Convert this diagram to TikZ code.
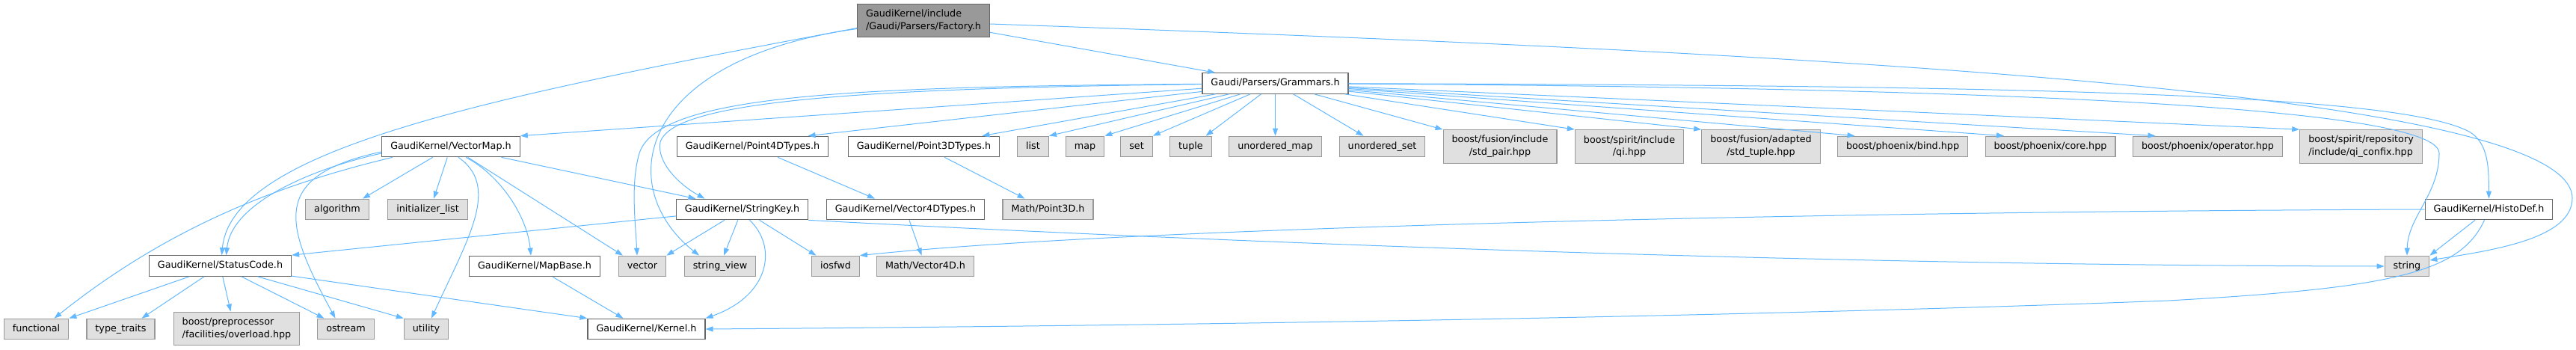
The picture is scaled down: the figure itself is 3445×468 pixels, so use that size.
\documentclass[tikz,border=0pt]{standalone}
\usepackage{fontspec}
\setmainfont{DejaVu Sans}
\usepackage{xcolor}
\usepackage{tikz}
\usetikzlibrary{arrows.meta}

\definecolor{lien}{HTML}{63B8FF}
\definecolor{gris40}{HTML}{666666}
\definecolor{gris60}{HTML}{999999}
\definecolor{gris87}{HTML}{E0E0E0}

\begin{document}
\begin{tikzpicture}[x=1pt, y=-1pt,
    boite/.style={draw, line width=1.2pt, inner xsep=11.5pt, inner ysep=2pt,
        font=\fontsize{12.75}{16.7}\selectfont},
    uneligne/.style={minimum height=27.5pt, text height=9.5pt, text depth=3pt},
    deuxlignes/.style={minimum height=44.5pt},
    doc/.style={boite, uneligne, draw=gris40, fill=white},
    ext/.style={boite, uneligne, draw=gris60, fill=gris87},
    ext2/.style={boite, deuxlignes, draw=gris60, fill=gris87},
    racine/.style={boite, deuxlignes, draw=gris40, fill=gris60},
    fleche/.style={draw=lien, line width=1pt, -{Triangle[length=10pt,width=7pt]}}]

    % Cadre de l'image
    \useasboundingbox (0,0) rectangle (3445,468);

    % Fichier racine
    \node (factory) at (1235,27.5) [racine, align=left] {GaudiKernel/include\\/Gaudi/Parsers/Factory.h};

    % Niveau 1
    \node (grammars) at (1705.5,111.5) [doc] {Gaudi/Parsers/Grammars.h};

    % Niveau 2
    \node (vmap) at (603,196) [doc] {GaudiKernel/VectorMap.h};
    \node (p4d) at (1006.5,196) [doc] {GaudiKernel/Point4DTypes.h};
    \node (p3d) at (1235.5,196) [doc] {GaudiKernel/Point3DTypes.h};
    \node (list) at (1381.5,196) [ext] {list};
    \node (map) at (1451,196) [ext] {map};
    \node (set) at (1520,196) [ext] {set};
    \node (tuple) at (1592.5,196) [ext] {tuple};
    \node (umap) at (1705.5,196) [ext] {unordered\_map};
    \node (uset) at (1848.5,196) [ext] {unordered\_set};
    \node (fpair) at (2006,196) [ext2, align=center] {boost/fusion/include\\/std\_pair.hpp};
    \node (qi) at (2179,196) [ext2, align=center] {boost/spirit/include\\/qi.hpp};
    \node (ftuple) at (2355,196) [ext2, align=center] {boost/fusion/adapted\\/std\_tuple.hpp};
    \node (pbind) at (2544.5,196) [ext] {boost/phoenix/bind.hpp};
    \node (pcore) at (2742,196) [ext] {boost/phoenix/core.hpp};
    \node (pop) at (2952.5,196) [ext] {boost/phoenix/operator.hpp};
    \node (confix) at (3157.5,196) [ext2, align=left] {boost/spirit/repository\\/include/qi\_confix.hpp};

    % Niveau 3
    \node (algorithm) at (451,280) [ext] {algorithm};
    \node (initlist) at (572,280) [ext] {initializer\_list};
    \node (strkey) at (992.5,280) [doc] {GaudiKernel/StringKey.h};
    \node (v4dt) at (1211,280) [doc] {GaudiKernel/Vector4DTypes.h};
    \node (point3d) at (1401.5,280) [ext] {Math/Point3D.h};
    \node (histodef) at (3328.5,280) [doc] {GaudiKernel/HistoDef.h};

    % Niveau 4
    \node (status) at (294.5,355.5) [doc] {GaudiKernel/StatusCode.h};
    \node (mapbase) at (715,356) [doc] {GaudiKernel/MapBase.h};
    \node (vector) at (859,356) [ext] {vector};
    \node (strview) at (963,356) [ext] {string\_view};
    \node (iosfwd) at (1117.5,356) [ext] {iosfwd};
    \node (vec4d) at (1237.5,356) [ext] {Math/Vector4D.h};
    \node (string) at (3219,356) [ext] {string};

    % Niveau 5
    \node (functional) at (48.5,440) [ext] {functional};
    \node (typetraits) at (161.5,440) [ext] {type\_traits};
    \node (preproc) at (316.5,439.5) [ext2, align=left] {boost/preprocessor\\/facilities/overload.hpp};
    \node (ostream) at (462.5,440) [ext] {ostream};
    \node (utility) at (570,440) [ext] {utility};
    \node (kernel) at (864.5,440) [doc] {GaudiKernel/Kernel.h};

    % Liens depuis Factory.h
    \draw[fleche] (factory) -- (grammars);
    \draw[fleche] ([yshift=-10pt]factory.west) .. controls (650,130) and (310,200) .. ([xshift=2pt]status.north);
    \draw[fleche] ([yshift=-11pt]factory.west) .. controls (850,80) and (820,250) .. ([xshift=-28pt]strview.north);
    \draw[fleche] ([yshift=-4.5pt]factory.east) .. controls (2400,70) and (3440,120) .. (3440,265)
        .. controls (3440,320) and (3330,335) .. ([yshift=8pt]string.east);

    % Liens depuis Grammars.h
    \draw[fleche] (grammars) -- (vmap.north east);
    \draw[fleche] (grammars) -- ([xshift=74pt]p4d.north);
    \draw[fleche] (grammars) -- ([xshift=78pt]p3d.north);
    \draw[fleche] (grammars) -- (list.north east);
    \draw[fleche] (grammars) -- (map.north east);
    \draw[fleche] (grammars) -- (set.north east);
    \draw[fleche] (grammars) -- ([xshift=20pt]tuple.north);
    \draw[fleche] (grammars) -- (umap);
    \draw[fleche] (grammars) -- ([xshift=-25pt]uset.north);
    \draw[fleche] (grammars) -- (fpair.north west);
    \draw[fleche] (grammars) -- (qi.north west);
    \draw[fleche] (grammars) -- (ftuple.north west);
    \draw[fleche] (grammars) -- ([xshift=-64pt]pbind.north);
    \draw[fleche] (grammars) -- ([xshift=-62pt]pcore.north);
    \draw[fleche] (grammars) -- ([xshift=-70pt]pop.north);
    \draw[fleche] (grammars) -- (confix.north west);
    \draw[fleche] (grammars) .. controls (2800,118) and (3262,150) .. (3262,205)
        .. controls (3262,260) and (3220,290) .. (string.north);
    \draw[fleche] (grammars) .. controls (2700,114) and (3200,125) .. (3300,175)
        .. controls (3330,190) and (3328,230) .. (histodef.north);
    \draw[fleche] (grammars) .. controls (1150,118) and (900,135) .. (883,190)
        .. controls (878,215) and (905,245) .. ([xshift=-50pt]strkey.north);
    \draw[fleche] (grammars) .. controls (1150,116) and (880,125) .. (855,205)
        .. controls (843,245) and (850,300) .. ([xshift=-7pt]vector.north);

    % Liens depuis HistoDef.h
    \draw[fleche] (histodef) -- (string.north east);
    \draw[fleche] ([xshift=-6pt]histodef.south) .. controls (3290,365) and (3200,385) .. (2900,402)
        .. controls (2300,425) and (1500,436) .. (kernel.east);
    \draw[fleche] (histodef.west) .. controls (2400,283) and (1500,305) .. (iosfwd.north east);

    % Liens depuis StringKey.h
    \draw[fleche] (strkey) -- (vector.north east);
    \draw[fleche] (strkey) -- ([xshift=5pt]strview.north);
    \draw[fleche] (strkey) -- ([xshift=-26pt]iosfwd.north);
    \draw[fleche] ([xshift=10pt]strkey.south) .. controls (1040,330) and (1030,395) .. (kernel.north east);
    \draw[fleche] (strkey) -- (status.north east);
    \draw[fleche] (strkey.south east) .. controls (1600,322) and (2400,355) .. (string.west);

    % Liens depuis VectorMap.h
    \draw[fleche] (vmap) -- ([xshift=34pt]algorithm.north);
    \draw[fleche] (vmap) -- ([xshift=8pt]initlist.north);
    \draw[fleche] ([xshift=10pt]vmap.south) .. controls (670,250) and (625,320) .. ([xshift=7pt]utility.north);
    \draw[fleche] ([xshift=20pt]vmap.south) .. controls (670,235) and (705,290) .. ([xshift=-5pt]mapbase.north);
    \draw[fleche] (vmap) -- ([xshift=-26pt]vector.north);
    \draw[fleche] (vmap) -- ([xshift=-62pt]strkey.north);
    \draw[fleche] ([xshift=-78pt]vmap.south) .. controls (380,245) and (230,300) .. ([xshift=24pt]functional.north);
    \draw[fleche] ([yshift=-9pt]vmap.west) .. controls (420,225) and (310,270) .. ([xshift=8pt]status.north);
    \draw[fleche] ([yshift=-7pt]vmap.west) .. controls (360,235) and (380,300) .. ([xshift=-14pt]ostream.north);

    % Liens depuis StatusCode.h
    \draw[fleche] (status) -- (functional.north east);
    \draw[fleche] (status) -- ([xshift=28pt]typetraits.north);
    \draw[fleche] (status) -- ([xshift=-8pt]preproc.north);
    \draw[fleche] (status) -- ([xshift=-29pt]ostream.north);
    \draw[fleche] (status) -- (utility.north west);
    \draw[fleche] (status) -- (kernel.north west);

    % Autres liens
    \draw[fleche] (mapbase) -- ([xshift=-31pt]kernel.north);
    \draw[fleche] (p4d) -- ([xshift=-41pt]v4dt.north);
    \draw[fleche] (p3d) -- ([xshift=-31pt]point3d.north);
    \draw[fleche] (v4dt) -- ([xshift=-5pt]vec4d.north);

\end{tikzpicture}
\end{document}
